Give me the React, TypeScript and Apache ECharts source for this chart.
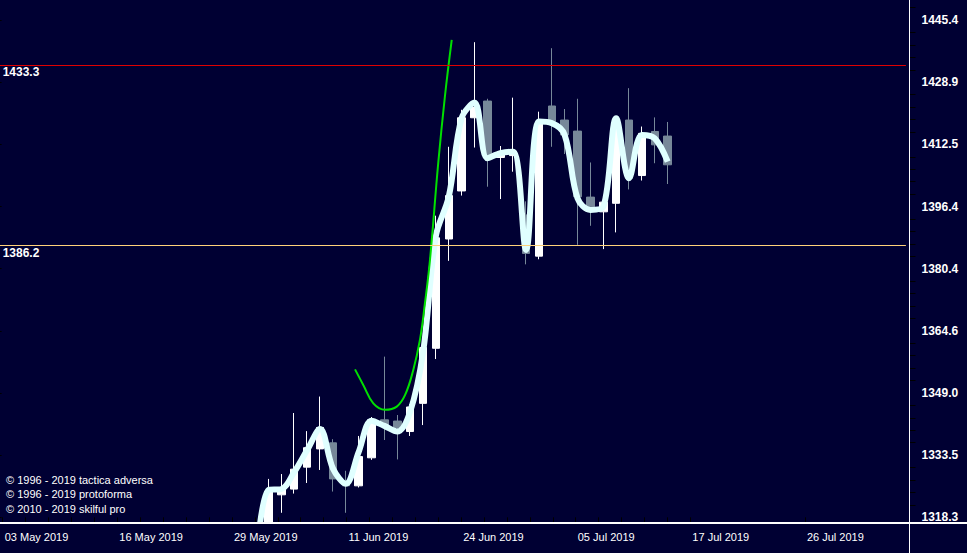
import React, { useEffect, useRef } from 'react';
import * as echarts from 'echarts';

// ---- data (gold, daily candles) ----
const dates = [
  '2019-05-31', '2019-06-03', '2019-06-04', '2019-06-05', '2019-06-06', '2019-06-07',
  '2019-06-10', '2019-06-11', '2019-06-12', '2019-06-13', '2019-06-14',
  '2019-06-17', '2019-06-18', '2019-06-19', '2019-06-20', '2019-06-21',
  '2019-06-24', '2019-06-25', '2019-06-26', '2019-06-27', '2019-06-28',
  '2019-07-01', '2019-07-02', '2019-07-03', '2019-07-04', '2019-07-05',
  '2019-07-08', '2019-07-09', '2019-07-10', '2019-07-11', '2019-07-12',
  '2019-07-15', '2019-07-16',
];
const openP = [null, 1306.0, 1323.8, 1325.2, 1330.6, 1335.1, 1336.6, 1327.2, 1326.0, 1332.9, 1342.3,
  1342.0, 1339.4, 1346.4, 1360.2, 1388.0, 1400.4, 1419.5, 1423.9, 1409.1, 1409.6,
  1394.2, 1383.6, 1422.6, 1418.9, 1416.0, 1398.8, 1395.0, 1397.2, 1418.9, 1404.4, 1415.9, 1414.7];
const closeP = [null, 1324.6, 1325.2, 1330.1, 1335.4, 1340.4, 1327.7, 1326.0, 1333.2, 1342.3, 1341.0,
  1340.4, 1345.5, 1360.4, 1388.3, 1399.2, 1419.5, 1422.2, 1409.1, 1410.0, 1410.6,
  1384.3, 1418.1, 1418.5, 1415.0, 1398.9, 1396.3, 1397.5, 1419.1, 1403.7, 1415.4, 1412.4, 1407.2];
const lowP = [null, 1303.0, 1319.4, 1324.1, 1326.7, 1329.9, 1324.6, 1319.4, 1325.6, 1332.4, 1337.3,
  1332.5, 1338.3, 1341.0, 1357.5, 1382.4, 1399.2, 1411.7, 1401.5, 1398.3, 1405.4,
  1381.5, 1382.8, 1411.9, 1410.0, 1386.5, 1391.4, 1385.4, 1389.7, 1400.8, 1403.1, 1407.6, 1402.2];
const highP = [null, 1327.7, 1328.9, 1344.0, 1339.5, 1348.1, 1337.5, 1329.7, 1338.3, 1343.0, 1358.1,
  1343.5, 1346.2, 1360.6, 1394.0, 1411.9, 1421.6, 1439.5, 1424.5, 1412.1, 1424.8,
  1397.7, 1421.1, 1437.9, 1421.8, 1424.5, 1407.8, 1397.8, 1419.7, 1427.3, 1417.2, 1419.6, 1418.4];
const trendP = [1306.0, 1325.0, 1325.2, 1329.4, 1334.8, 1340.0, 1330.3, 1326.5, 1334.3, 1342.1, 1340.8,
  1339.4, 1344.3, 1359.1, 1388.8, 1398.9, 1419.4, 1423.5, 1408.9, 1410.2, 1410.6,
  1385.2, 1418.5, 1418.1, 1415.0, 1398.5, 1395.5, 1396.3, 1419.4, 1403.7, 1415.0, 1414.1, 1408.0];
// green curve: position in date-index units (fractional) and price
const curveX = [7.72, 8.36, 9.14, 10.05, 10.96, 11.61, 12.24, 12.76, 13.15, 13.54, 14.18, 14.70, 15.23];
const curveP = [1354.9, 1351.0, 1346.4, 1344.8, 1345.6, 1348.5, 1354.7, 1362.3, 1371.6, 1382.6, 1407.6, 1425.1, 1440.1];
const levels = [1433.3, 1386.2];
const yTickLabels = ['1318.3', '1333.5', '1349.0', '1364.6', '1380.4', '1396.4', '1412.5', '1428.9', '1445.4'];
const xTickLabels = ['03 May 2019', '16 May 2019', '29 May 2019', '11 Jun 2019', '24 Jun 2019', '05 Jul 2019', '17 Jul 2019', '26 Jul 2019'];
const credits = ['© 1996 - 2019 tactica adversa', '© 1996 - 2019 protoforma', '© 2010 - 2019 skilful pro'];

const FONT = '"Liberation Sans", Arial, sans-serif';
const BG = '#000033';

export default function App() {
  const ref = useRef<HTMLDivElement>(null);
  useEffect(() => {
    document.body.style.margin = '0';
    document.body.style.background = BG;
    const chart = echarts.init(ref.current!, null, { renderer: 'svg' });

    // logarithmic price scale: one axis unit = one labelled step
    const base = Number(yTickLabels[0]);
    const top = Number(yTickLabels[yTickLabels.length - 1]);
    const step = Math.log(top / base) / (yTickLabels.length - 1);
    const toAxis = (p: number) => Math.log(p / base) / step;

    const padBefore = 20;
    const totalSlots = 71;
    const categories: string[] = [];
    for (let i = 0; i < totalSlots; i++) {
      const j = i - padBefore;
      categories.push(j >= 0 && j < dates.length ? dates[j] : (j < 0 ? 'pre' + i : 'post' + i));
    }
    const candleData: any[] = categories.map((_, i) => {
      const j = i - padBefore;
      if (j < 0 || j >= dates.length || openP[j] == null) return '-';
      return [toAxis(openP[j] as number), toAxis(closeP[j] as number), toAxis(lowP[j] as number), toAxis(highP[j] as number)];
    });
    const trendData: any[] = categories.map((_, i) => {
      const j = i - padBefore;
      if (j < 0 || j >= trendP.length) return '-';
      return toAxis(trendP[j]);
    });
    const curveData = curveX.map((x, i) => [padBefore + x + 0.5, toAxis(curveP[i])]);

    const yMin = -0.0917;
    const yMax = 8.3234;
    const yLabelVals = yTickLabels.map((_, i) => i);
    const yMinorVals: number[] = [];
    for (let i = 0; i <= 42; i++) {
      const v = i * 0.2;
      if (i % 5 !== 0 && v <= yMax) yMinorVals.push(v);
    }

    const xLabelStart = 0.86;
    const xLabelStep = 8.9;
    const xLabelVals = xTickLabels.map((_, i) => xLabelStart + i * xLabelStep);
    const xTickVals: number[] = [];
    for (let i = 0; i <= 30; i++) xTickVals.push(xLabelStart + i * xLabelStep / 5);
    xTickVals.push(xLabelVals[xLabelVals.length - 1]);

    const levelColors = ['#E00000', '#FFD27A'];

    chart.setOption({
      animation: false,
      backgroundColor: BG,
      grid: { left: -8.36, right: 61.1, top: 0, bottom: 30, containLabel: false, outerBoundsMode: 'none' },
      xAxis: [
        {
          type: 'category', data: categories, boundaryGap: true, position: 'bottom',
          axisLine: { show: false }, axisTick: { show: false }, axisLabel: { show: false },
          splitLine: { show: false },
        },
        {
          type: 'value', min: 0, max: totalSlots, position: 'bottom', z: 10,
          axisLine: { show: false },
          axisTick: { show: true, customValues: xTickVals, length: 5, lineStyle: { color: '#000000', width: 1 } },
          axisLabel: {
            customValues: xLabelVals,
            formatter: (v: number) => xTickLabels[Math.round((v - xLabelStart) / xLabelStep)] ?? '',
            color: '#FFFFFF', fontSize: 11, fontFamily: FONT, align: 'left', margin: 8,
            padding: [0, 0, 0, 2],
          },
          splitLine: { show: false },
        },
      ],
      yAxis: [
        {
          type: 'value', min: yMin, max: yMax, position: 'right', offset: 3.6,
          axisLine: { show: false },
          axisTick: { show: true, customValues: yLabelVals, length: 10, lineStyle: { color: '#000000', width: 1 } },
          axisLabel: {
            customValues: yLabelVals,
            formatter: (v: number) => yTickLabels[Math.round(v)] ?? '',
            color: '#FFFFFF', fontSize: 12, fontWeight: 'bold', fontFamily: FONT, margin: 12,
          },
          splitLine: { show: false },
        },
        {
          type: 'value', min: yMin, max: yMax, position: 'right', offset: 3.6,
          axisLine: { show: false },
          axisTick: { show: true, customValues: yMinorVals, length: 6, lineStyle: { color: '#000000', width: 1 } },
          axisLabel: { show: false },
          splitLine: { show: false },
        },
      ],
      series: [
        {
          type: 'candlestick', xAxisIndex: 0, yAxisIndex: 0, barWidth: 8, clip: true,
          itemStyle: { color: '#FFFFFF', color0: '#778899', borderColor: '#FFFFFF', borderColor0: '#778899', borderWidth: 1 },
          data: candleData,
        },
        {
          type: 'line', xAxisIndex: 0, yAxisIndex: 0, data: trendData, smooth: 0.35, clip: true,
          showSymbol: false, lineStyle: { color: '#E0FFFF', width: 6 },
          markLine: {
            silent: true, symbol: ['none', 'none'], animation: false,
            label: {
              show: true, position: 'insideStartBottom', distance: [11, 1],
              color: '#FFFFFF', fontWeight: 'bold', fontSize: 12, fontFamily: FONT,
            },
            data: levels.map((p, i) => ({
              yAxis: toAxis(p),
              lineStyle: { color: levelColors[i], width: 1, type: 'solid' },
              label: { formatter: p.toFixed(1) },
            })),
          },
        },
        {
          type: 'line', xAxisIndex: 1, yAxisIndex: 0, data: curveData, smooth: 0.4,
          showSymbol: false, lineStyle: { color: '#00E000', width: 2 },
        },
      ],
      graphic: [
        // mask for candle overflow below the time axis (axis labels sit above it)
        { type: 'rect', silent: true, z: 5, shape: { x: 0, y: 524, width: 909, height: 29 }, style: { fill: BG } },
        { type: 'line', silent: true, z: 100, shape: { x1: 0, y1: 523, x2: 967, y2: 523 }, style: { stroke: '#FFFFFF', lineWidth: 2 } },
        { type: 'line', silent: true, z: 100, shape: { x1: 909.5, y1: 0, x2: 909.5, y2: 553 }, style: { stroke: '#FFFFFF', lineWidth: 1 } },
        ...credits.map((t, i) => ({
          type: 'text', x: 6, y: 479.5 + i * 14.5, silent: true, z: 100,
          style: { text: t, fill: '#FFFFFF', font: '11px ' + FONT, verticalAlign: 'middle' },
        })),
      ],
    });
    return () => chart.dispose();
  }, []);
  return <div ref={ref} style={{ position: 'fixed', left: 0, top: 0, width: 967, height: 553 }} />;
}
